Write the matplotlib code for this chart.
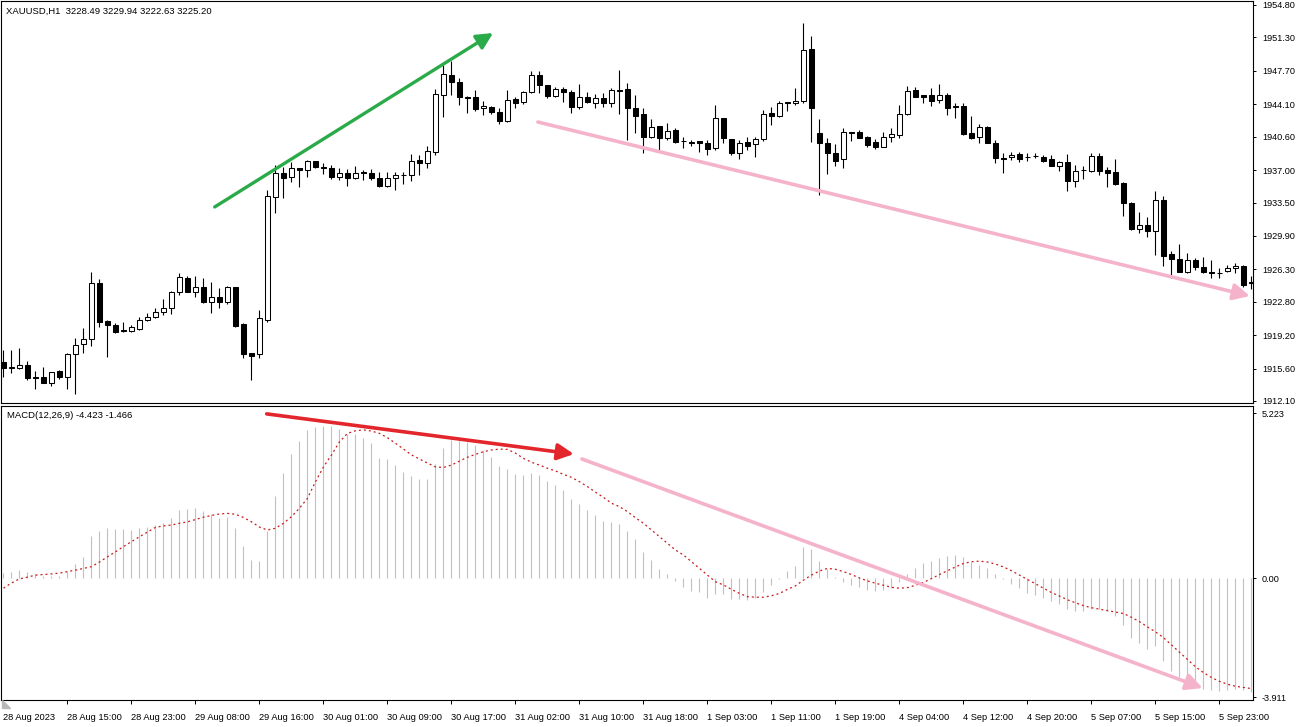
import numpy as np
import matplotlib
matplotlib.use("Agg")
import matplotlib.pyplot as plt
from matplotlib.patches import Polygon

plt.rcParams['font.family'] = ['Liberation Sans', 'DejaVu Sans']

# ---------------- Data ----------------
symbol_header = "XAUUSD,H1  3228.49 3229.94 3222.63 3225.20"
macd_header = "MACD(12,26,9) -4.423 -1.466"

opens = [1916.30, 1915.69, 1915.66, 1915.98, 1914.72, 1914.72, 1914.07, 1915.33, 1914.72, 1917.14,
         1918.21, 1918.75, 1924.79, 1920.73, 1920.26, 1919.70, 1919.68, 1919.83, 1920.80, 1921.19,
         1921.66, 1922.09, 1923.82, 1925.33, 1923.89, 1924.42, 1922.74, 1923.28, 1922.81, 1924.36,
         1920.40, 1917.24, 1917.14, 1920.83, 1934.13, 1936.65, 1936.22, 1937.19, 1937.01, 1937.98,
         1937.33, 1937.19, 1936.22, 1936.72, 1936.11, 1936.74, 1936.72, 1936.11, 1935.32, 1936.11,
         1936.47, 1936.47, 1938.09, 1937.80, 1938.98, 1945.10, 1947.29, 1946.53, 1944.88, 1944.85,
         1943.66, 1943.77, 1943.30, 1942.32, 1944.63, 1944.31, 1945.39, 1947.25, 1946.12, 1945.02,
         1945.71, 1945.39, 1943.77, 1944.91, 1944.27, 1944.74, 1944.27, 1945.64, 1945.71, 1943.66,
         1943.05, 1940.60, 1941.75, 1940.43, 1941.32, 1940.17, 1940.03, 1940.14, 1939.89, 1939.35,
         1942.58, 1940.35, 1938.87, 1940.00, 1939.78, 1940.35, 1943.19, 1942.86, 1944.27, 1944.20,
         1944.45, 1950.02, 1940.97, 1939.95, 1938.81, 1938.16, 1941.14, 1941.07, 1940.60, 1940.00,
         1939.52, 1940.53, 1940.78, 1943.02, 1945.64, 1945.10, 1945.10, 1944.56, 1945.10, 1943.91,
         1943.91, 1940.97, 1940.53, 1941.68, 1939.89, 1938.27, 1938.38, 1938.73, 1938.44, 1938.55,
         1938.38, 1938.19, 1937.47, 1937.84, 1935.86, 1937.01, 1936.93, 1938.52, 1937.01, 1936.76,
         1935.57, 1933.48, 1930.65, 1931.08, 1930.46, 1933.77, 1927.95, 1927.38, 1925.98, 1927.30,
         1926.58, 1926.04, 1925.93, 1926.15, 1926.41, 1926.66, 1924.90]

highs = [1917.60, 1917.60, 1917.82, 1916.41, 1915.33, 1915.80, 1915.23, 1915.44, 1917.31, 1918.86,
         1919.94, 1926.04, 1925.22, 1920.83, 1920.48, 1920.65, 1920.30, 1921.16, 1921.56, 1922.09,
         1923.07, 1923.96, 1925.93, 1925.58, 1925.58, 1925.33, 1924.90, 1924.25, 1924.50, 1924.42,
         1920.48, 1917.30, 1921.91, 1934.85, 1937.55, 1937.37, 1937.90, 1937.23, 1938.09, 1938.01,
         1937.73, 1937.55, 1937.19, 1937.08, 1937.47, 1937.01, 1937.12, 1936.83, 1936.83, 1936.83,
         1936.83, 1938.70, 1938.63, 1939.60, 1945.71, 1948.33, 1948.76, 1946.90, 1944.99, 1945.64,
         1944.48, 1943.91, 1943.66, 1945.64, 1944.85, 1945.56, 1947.72, 1947.72, 1946.17, 1945.99,
         1945.93, 1945.64, 1946.28, 1945.45, 1945.20, 1945.28, 1945.82, 1947.79, 1946.36, 1945.10,
         1943.66, 1942.48, 1941.75, 1942.04, 1941.51, 1940.53, 1940.24, 1940.14, 1940.24, 1944.02,
         1942.58, 1940.35, 1940.24, 1940.60, 1940.53, 1943.48, 1943.83, 1944.45, 1944.39, 1945.82,
         1952.83, 1951.46, 1942.48, 1940.43, 1939.81, 1941.51, 1941.14, 1941.32, 1940.67, 1940.35,
         1941.07, 1941.51, 1944.02, 1946.07, 1945.99, 1945.10, 1945.82, 1946.28, 1945.28, 1944.20,
         1944.20, 1942.83, 1941.97, 1941.75, 1940.24, 1938.81, 1938.98, 1938.98, 1938.81, 1938.81,
         1938.63, 1938.63, 1938.01, 1938.73, 1937.55, 1937.44, 1938.87, 1938.87, 1937.37, 1938.16,
         1935.75, 1933.59, 1932.51, 1931.91, 1934.74, 1934.21, 1928.31, 1929.03, 1928.03, 1927.49,
         1927.66, 1927.30, 1926.41, 1926.77, 1926.95, 1926.77, 1925.61]

lows = [1914.69, 1915.12, 1915.60, 1914.36, 1913.43, 1914.01, 1913.75, 1914.44, 1913.43, 1912.82,
        1917.31, 1918.03, 1920.11, 1916.88, 1919.40, 1919.51, 1919.57, 1919.75, 1920.73, 1921.08,
        1921.34, 1921.45, 1923.50, 1923.82, 1923.28, 1922.70, 1921.56, 1922.16, 1922.53, 1920.11,
        1916.70, 1914.36, 1916.77, 1920.62, 1932.37, 1933.96, 1935.75, 1935.14, 1936.29, 1937.19,
        1936.55, 1936.01, 1935.93, 1935.32, 1936.01, 1935.93, 1935.93, 1935.21, 1935.21, 1934.85,
        1935.47, 1935.86, 1936.47, 1937.19, 1938.63, 1942.76, 1945.10, 1944.02, 1943.12, 1943.37,
        1942.94, 1943.05, 1941.97, 1942.22, 1943.66, 1944.09, 1945.28, 1945.34, 1944.74, 1944.85,
        1944.37, 1943.19, 1943.60, 1944.20, 1943.66, 1943.83, 1943.83, 1943.05, 1940.24, 1941.03,
        1938.87, 1940.43, 1939.17, 1940.24, 1939.89, 1939.35, 1939.60, 1938.98, 1938.63, 1939.17,
        1939.89, 1938.63, 1938.16, 1939.17, 1938.38, 1940.14, 1941.86, 1942.76, 1943.40, 1944.02,
        1944.20, 1940.06, 1934.31, 1936.58, 1937.47, 1937.26, 1940.17, 1940.41, 1939.52, 1939.27,
        1939.46, 1940.06, 1940.43, 1942.90, 1944.85, 1944.20, 1943.94, 1944.20, 1942.94, 1942.65,
        1940.78, 1940.32, 1939.89, 1939.89, 1937.80, 1936.72, 1938.09, 1937.90, 1937.98, 1938.27,
        1937.90, 1937.44, 1936.93, 1934.78, 1935.14, 1936.04, 1936.83, 1936.47, 1935.14, 1935.39,
        1932.05, 1930.54, 1930.18, 1929.82, 1927.84, 1926.66, 1925.33, 1926.00, 1925.90, 1926.23,
        1925.93, 1925.40, 1925.33, 1926.04, 1925.87, 1924.42, 1924.15]

closes = [1915.66, 1915.75, 1915.98, 1914.55, 1914.55, 1914.07, 1915.19, 1914.72, 1917.14, 1918.11,
          1918.79, 1924.79, 1920.65, 1920.26, 1919.57, 1919.60, 1920.05, 1920.83, 1921.19, 1921.66,
          1922.09, 1923.82, 1925.44, 1923.89, 1924.42, 1922.81, 1923.28, 1922.81, 1924.36, 1920.19,
          1917.17, 1916.98, 1921.02, 1934.21, 1936.72, 1936.18, 1937.19, 1937.01, 1937.98, 1937.30,
          1937.27, 1936.22, 1936.72, 1936.11, 1936.72, 1936.71, 1936.11, 1935.32, 1936.11, 1936.47,
          1936.50, 1938.01, 1937.80, 1939.06, 1945.17, 1947.36, 1946.53, 1944.91, 1944.82, 1943.59,
          1943.91, 1943.30, 1942.32, 1944.56, 1944.20, 1945.45, 1947.25, 1946.17, 1945.02, 1945.71,
          1945.39, 1943.77, 1944.91, 1944.37, 1944.74, 1944.20, 1945.64, 1945.57, 1943.66, 1942.86,
          1940.60, 1941.61, 1940.43, 1941.25, 1940.00, 1940.10, 1939.97, 1939.92, 1939.24, 1942.58,
          1940.43, 1938.87, 1939.89, 1939.60, 1940.35, 1943.05, 1942.86, 1944.27, 1944.25, 1944.45,
          1949.95, 1943.66, 1939.95, 1938.81, 1938.01, 1941.14, 1941.03, 1940.49, 1939.70, 1939.52,
          1940.53, 1940.86, 1943.02, 1945.56, 1944.91, 1944.91, 1944.48, 1945.10, 1943.73, 1943.85,
          1940.89, 1940.43, 1941.61, 1939.95, 1938.27, 1938.22, 1938.63, 1938.19, 1938.41, 1938.52,
          1938.01, 1937.47, 1937.84, 1935.86, 1936.93, 1936.96, 1938.52, 1936.93, 1936.65, 1935.50,
          1933.48, 1930.65, 1931.08, 1930.46, 1933.77, 1927.73, 1927.38, 1926.04, 1927.30, 1926.52,
          1926.04, 1925.87, 1925.90, 1926.47, 1926.66, 1924.61, 1924.87]

macd_main = [0.16, 0.22, 0.27, 0.20, 0.13, 0.07, 0.07, 0.07, 0.24, 0.47,
             0.72, 1.44, 1.62, 1.71, 1.68, 1.68, 1.65, 1.73, 1.76, 1.82,
             1.88, 2.05, 2.34, 2.37, 2.40, 2.30, 2.20, 2.07, 2.11, 1.73,
             1.10, 0.62, 0.59, 1.62, 2.83, 3.62, 4.26, 4.72, 5.09, 5.20,
             5.223, 5.21, 5.12, 4.95, 4.95, 4.80, 4.65, 4.12, 4.10, 3.88,
             3.64, 3.51, 3.40, 3.40, 3.91, 4.48, 4.74, 4.74, 4.68, 4.57,
             4.40, 4.15, 3.85, 3.75, 3.56, 3.54, 3.60, 3.54, 3.33, 3.20,
             3.02, 2.71, 2.54, 2.34, 2.16, 1.96, 1.93, 1.86, 1.62, 1.34,
             0.90, 0.62, 0.31, 0.14, -0.09, -0.30, -0.44, -0.49, -0.70, -0.56,
             -0.56, -0.73, -0.73, -0.76, -0.68, -0.47, -0.24, -0.02, 0.25, 0.41,
             1.05, 1.00, 0.58, 0.30, 0.05, -0.15, -0.25, -0.30, -0.40, -0.45,
             -0.42, -0.35, -0.15, 0.15, 0.35, 0.50, 0.60, 0.70, 0.75, 0.78,
             0.72, 0.55, 0.45, 0.35, 0.15, -0.05, -0.20, -0.35, -0.50, -0.60,
             -0.70, -0.80, -0.90, -1.05, -1.15, -1.15, -1.05, -1.05, -1.15, -1.30,
             -1.60, -2.05, -2.25, -2.45, -2.35, -2.85, -3.20, -3.40, -3.55, -3.70,
             -3.80, -3.85, -3.88, -3.85, -3.80, -3.85, -3.911]

macd_signal = [-0.35, -0.17, -0.03, 0.03, 0.10, 0.12, 0.14, 0.17, 0.22, 0.27,
               0.33, 0.39, 0.55, 0.73, 0.90, 1.08, 1.25, 1.42, 1.58, 1.74,
               1.79, 1.82, 1.88, 1.93, 2.01, 2.09, 2.15, 2.20, 2.22, 2.19,
               2.08, 1.93, 1.75, 1.65, 1.71, 1.88, 2.11, 2.40, 2.74, 3.31,
               3.82, 4.23, 4.68, 4.97, 5.06, 5.09, 5.05, 4.97, 4.82, 4.63,
               4.43, 4.23, 4.09, 3.95, 3.82, 3.80, 3.88, 4.02, 4.15, 4.25,
               4.34, 4.40, 4.43, 4.42, 4.29, 4.11, 3.98, 3.88, 3.77, 3.68,
               3.56, 3.46, 3.31, 3.14, 2.95, 2.77, 2.57, 2.45, 2.28, 2.07,
               1.88, 1.65, 1.42, 1.19, 0.96, 0.79, 0.56, 0.33, 0.10, -0.13,
               -0.24, -0.39, -0.53, -0.64, -0.66, -0.66, -0.61, -0.53, -0.39, -0.27,
               -0.07, 0.10, 0.24, 0.33, 0.30, 0.22, 0.12, 0.00, -0.10, -0.18,
               -0.25, -0.32, -0.35, -0.33, -0.25, -0.15, -0.02, 0.12, 0.25, 0.38,
               0.50, 0.56, 0.58, 0.55, 0.48, 0.38, 0.25, 0.10, -0.05, -0.20,
               -0.35, -0.50, -0.62, -0.75, -0.85, -0.95, -1.02, -1.07, -1.12, -1.17,
               -1.22, -1.35, -1.50, -1.68, -1.85, -2.05, -2.30, -2.55, -2.80, -3.05,
               -3.25, -3.42, -3.55, -3.65, -3.72, -3.76, -3.80]

time_labels = ["28 Aug 2023", "28 Aug 15:00", "28 Aug 23:00", "29 Aug 08:00", "29 Aug 16:00",
               "30 Aug 01:00", "30 Aug 09:00", "30 Aug 17:00", "31 Aug 02:00", "31 Aug 10:00",
               "31 Aug 18:00", "1 Sep 03:00", "1 Sep 11:00", "1 Sep 19:00", "4 Sep 04:00",
               "4 Sep 12:00", "4 Sep 20:00", "5 Sep 07:00", "5 Sep 15:00", "5 Sep 23:00"]
label_step = 8

price_ticks = [1954.80, 1951.30, 1947.70, 1944.10, 1940.60, 1937.00, 1933.50,
               1929.90, 1926.30, 1922.80, 1919.20, 1915.60, 1912.10]
macd_tick_labels = ["5.223", "0.00", "-3.911"]
macd_tick_pos = [5.67, 0.0, -4.09]

# trend arrows drawn on the chart (bar index, value)
green_arrow = [(26.4, 1933.02), (61.2, 1951.78)]
pink_price_arrow = [(66.8, 1942.18), (155.8, 1923.42)]
red_macd_arrow = [(32.9, 5.64), (71.3, 4.26)]
pink_macd_arrow = [(72.3, 4.09), (149.9, -3.78)]

# ---------------- Layout ----------------
W, H = 1301, 727
fig = plt.figure(figsize=(W / 100, H / 100), dpi=100)


def box(top, bottom, left=1, right=1253):
    return [left / W, 1 - bottom / H, (right - left) / W, (bottom - top) / H]


ax_p = fig.add_axes(box(1, 403))
ax_m = fig.add_axes(box(406, 700))

x = np.arange(len(opens))
o = np.array(opens)
c = np.array(closes)
hi = np.array(highs)
lo = np.array(lows)

# ---------------- Price panel ----------------
ax_p.vlines(x, lo, hi, colors='black', lw=0.8, zorder=2)
bull = c >= o
body_h = np.maximum(np.abs(c - o), 0.04)
ax_p.bar(x, body_h, bottom=np.minimum(o, c), width=0.62,
         color=np.where(bull, 'white', 'black'), edgecolor='black',
         linewidth=0.75, zorder=3)

ax_p.set_xlim(-0.3125, 156.19)
ax_p.set_ylim(1911.88, 1955.23)
ax_p.set_xticks([])
ax_p.yaxis.tick_right()
ax_p.set_yticks(price_ticks)
ax_p.set_yticklabels([f"{v:.2f}" for v in price_ticks])

# ---------------- MACD panel ----------------
ax_m.vlines(x, 0, macd_main, colors='#C0C0C0', lw=0.8, zorder=2)
ax_m.plot(x, macd_signal, color='#C81E1E', lw=0.9, ls=(0, (1.6, 2.4)), zorder=3)
ax_m.set_xlim(-0.3125, 156.19)
ax_m.set_ylim(-4.192, 5.911)
ax_m.yaxis.tick_right()
ax_m.set_yticks(macd_tick_pos)
ax_m.set_yticklabels(macd_tick_labels)
ax_m.set_xticks(np.arange(0, len(opens), label_step)[:len(time_labels)])
ax_m.set_xticklabels(time_labels)
for lbl in ax_m.get_xticklabels():
    lbl.set_ha('left')
for i, t in enumerate(ax_m.yaxis.get_major_ticks()):
    if i != 1:
        t.tick2line.set_visible(False)

for ax in (ax_p, ax_m):
    for sp in ax.spines.values():
        sp.set_linewidth(0.8)
        sp.set_color('black')
    ax.tick_params(axis='y', which='both', direction='out', length=2.5, width=0.7,
                   pad=4, labelsize=6.6, right=True, left=False)
ax_m.tick_params(axis='x', direction='out', length=3, width=0.7, pad=6, labelsize=6.7)

# ---------------- Annotations ----------------
def arrow(ax, pts, color, lw):
    ax.annotate('', xy=pts[1], xytext=pts[0],
                arrowprops=dict(arrowstyle='-|>,head_length=0.7,head_width=0.35',
                                color=color, lw=lw, mutation_scale=14,
                                shrinkA=0, shrinkB=0), zorder=5)


arrow(ax_p, green_arrow, '#2BAA4A', 2.4)
arrow(ax_p, pink_price_arrow, '#F5B3CB', 2.6)
arrow(ax_m, red_macd_arrow, '#E3262C', 2.6)
arrow(ax_m, pink_macd_arrow, '#F5B3CB', 2.6)

fig.text(6 / W, 1 - 11 / H, symbol_header, fontsize=6.8, va='center', ha='left')
fig.text(7 / W, 1 - 415 / H, macd_header, fontsize=6.8, va='center', ha='left')

# little scroll marker in the corner
fig.patches.append(Polygon([[2 / W, 1 - 700 / H], [2 / W, 1 - 708 / H], [10 / W, 1 - 708 / H]],
                           closed=True, transform=fig.transFigure, color='#B8B8B8'))

fig.savefig('out.png', dpi=100)
